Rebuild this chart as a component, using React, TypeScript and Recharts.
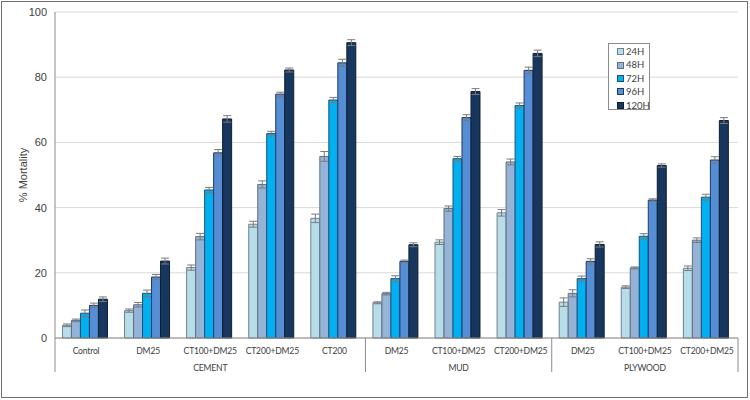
import { Bar, BarChart, CartesianGrid, ErrorBar, XAxis, YAxis } from "recharts";

const CATEGORIES = [
  "Control", "DM25", "CT100+DM25", "CT200+DM25", "CT200",
  "DM25", "CT100+DM25", "CT200+DM25",
  "DM25", "CT100+DM25", "CT200+DM25",
];
const GROUPS = [
  "CEMENT", "CEMENT", "CEMENT", "CEMENT", "CEMENT",
  "MUD", "MUD", "MUD",
  "PLYWOOD", "PLYWOOD", "PLYWOOD",
];
const Y_TICKS = [0, 20, 40, 60, 80, 100];

const H24 = [3.9, 8.4, 21.6, 34.9, 36.7, 10.8, 29.4, 38.4, 11.0, 15.6, 21.4];
const H48 = [5.4, 10.2, 31.1, 47.1, 55.7, 13.6, 39.7, 54.0, 13.7, 21.5, 30.0];
const H72 = [7.6, 13.7, 45.4, 62.7, 73.0, 18.2, 55.0, 71.3, 18.2, 31.2, 43.2];
const H96 = [10.0, 18.7, 56.8, 74.8, 84.4, 23.5, 67.6, 82.1, 23.5, 42.3, 54.6];
const H120 = [11.9, 23.6, 67.2, 82.2, 90.6, 28.6, 75.6, 87.3, 28.7, 52.9, 66.7];

const E24 = [0.4, 0.5, 0.8, 0.9, 1.3, 0.3, 0.7, 1.0, 1.3, 0.4, 0.7];
const E48 = [0.4, 0.7, 1.0, 1.1, 1.5, 0.4, 0.8, 0.9, 1.1, 0.3, 0.7];
const E72 = [1.0, 1.0, 0.8, 0.7, 0.8, 0.9, 0.7, 0.8, 0.8, 0.8, 0.9];
const E96 = [0.7, 0.8, 1.0, 0.6, 1.1, 0.4, 0.9, 1.0, 0.8, 0.4, 1.0];
const E120 = [0.7, 0.9, 1.0, 0.6, 0.9, 0.6, 0.9, 1.0, 0.8, 0.5, 0.9];

const SERIES = [
  { key: "h24", err: "e24", name: "24H", fill: "#B7DEE8", stroke: "#6f8090" },
  { key: "h48", err: "e48", name: "48H", fill: "#95B3D7", stroke: "#5f6f80" },
  { key: "h72", err: "e72", name: "72H", fill: "#00B0F0", stroke: "#1f4e79" },
  { key: "h96", err: "e96", name: "96H", fill: "#558ED5", stroke: "#1f3864" },
  { key: "h120", err: "e120", name: "120H", fill: "#17375E", stroke: "#0f1f33" },
];

const data = CATEGORIES.map((name, i) => ({
  name,
  h24: H24[i], h48: H48[i], h72: H72[i], h96: H96[i], h120: H120[i],
  e24: E24[i], e48: E48[i], e72: E72[i], e96: E96[i], e120: E120[i],
}));

const W = 750;
const H = 400;
const MARGIN = { top: 12, right: 12, bottom: 0, left: 20 };
const Y_AXIS_W = 35;
const BAND = (W - MARGIN.left - MARGIN.right - Y_AXIS_W) / CATEGORIES.length;
const AXIS_COLOR = "#8c8c8c";
const LABEL_FONT = "Lato, sans-serif";
const ARIAL = "'Liberation Sans', Arial, sans-serif";

// middle category of each group carries the group label
function groupMiddle(i: number) {
  const idx = GROUPS.map((g, j) => (g === GROUPS[i] ? j : -1)).filter((j) => j >= 0);
  return idx[Math.floor(idx.length / 2)] === i;
}

function CategoryTick(props: any) {
  const { x, y, index } = props;
  const first = index === 0 || GROUPS[index - 1] !== GROUPS[index];
  const last = index === CATEGORIES.length - 1;
  const txt = { textAnchor: "middle" as const, fontSize: 8.6, fontFamily: LABEL_FONT, fill: "#404040", letterSpacing: -0.2 };
  return (
    <g>
      <text x={x} y={y + 15.5} {...txt}>
        {CATEGORIES[index]}
      </text>
      {groupMiddle(index) && (
        <text x={x} y={y + 32.5} {...txt}>
          {GROUPS[index]}
        </text>
      )}
      {first && <line x1={x - BAND / 2} x2={x - BAND / 2} y1={y} y2={y + 34} stroke={AXIS_COLOR} />}
      {last && <line x1={x + BAND / 2} x2={x + BAND / 2} y1={y} y2={y + 34} stroke={AXIS_COLOR} />}
    </g>
  );
}

function LegendBox() {
  return (
    <div
      style={{
        position: "absolute",
        left: 608,
        top: 43,
        width: 42,
        height: 67,
        boxSizing: "border-box",
        border: "1px solid #8c8c8c",
        background: "#fff",
        padding: "1px 0 0 8px",
        fontFamily: LABEL_FONT,
        fontSize: 9.5,
        color: "#404040",
        lineHeight: "13.4px",
      }}
    >
      {SERIES.map((s) => (
        <div key={s.key} style={{ display: "flex", alignItems: "center", whiteSpace: "nowrap" }}>
          <span
            style={{
              flex: "0 0 auto",
              width: 5,
              height: 5,
              background: s.fill,
              border: `1px solid ${s.stroke}`,
              marginRight: 2,
              display: "inline-block",
            }}
          />
          {s.name}
        </div>
      ))}
    </div>
  );
}

export default function App() {
  return (
    <div style={{ position: "absolute", left: 0, top: 0, width: W, height: H, background: "#fff" }}>
      <div
        style={{
          position: "absolute",
          left: 1,
          top: 1,
          width: 747,
          height: 397,
          border: "1px solid #707070",
          boxSizing: "border-box",
        }}
      />
      <BarChart
        width={W}
        height={H}
        data={data}
        margin={MARGIN}
        barCategoryGap="12%"
        barGap={0}
        style={{ position: "absolute", left: 0, top: 0 }}
      >
        <CartesianGrid vertical={false} stroke="#d9d9d9" />
        <XAxis
          dataKey="name"
          interval={0}
          height={62}
          tickLine={false}
          tickSize={0}
          tickMargin={0}
          stroke={AXIS_COLOR}
          tick={<CategoryTick />}
        />
        <YAxis
          width={Y_AXIS_W}
          domain={[0, 100]}
          ticks={Y_TICKS}
          tickLine={false}
          stroke={AXIS_COLOR}
          tick={{ fill: "#404040", fontSize: 11, fontFamily: ARIAL }}
          label={{
            value: "% Mortality",
            angle: -90,
            position: "insideLeft",
            offset: 3,
            style: { textAnchor: "middle", fill: "#404040", fontSize: 11, fontFamily: ARIAL },
          }}
        />
        {SERIES.map((s) => (
          <Bar key={s.key} dataKey={s.key} name={s.name} fill={s.fill} stroke={s.stroke} strokeWidth={1} isAnimationActive={false}>
            <ErrorBar dataKey={s.err} width={4} stroke="#7a7a7a" strokeWidth={1} />
          </Bar>
        ))}
      </BarChart>
      <LegendBox />
    </div>
  );
}
